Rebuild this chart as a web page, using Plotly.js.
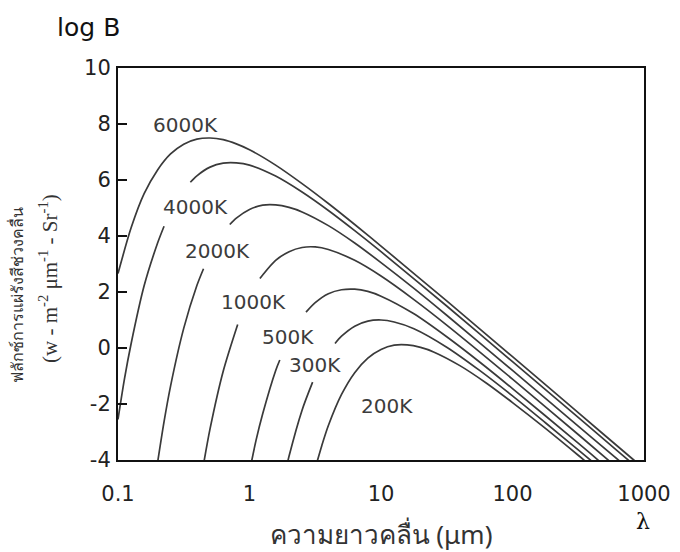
<!DOCTYPE html>
<html>
<head>
<meta charset="utf-8">
<script src="https://cdn.plot.ly/plotly-3.0.1.min.js"></script>
<style>
html,body{margin:0;padding:0;background:#ffffff;}
#chart{width:680px;height:552px;}
</style>
</head>
<body>
<div id="chart"></div>
<script>
// ---- data (wavelength in micrometres, value = log B) ----
const curveNames = ['6000K', '4000K', '2000K', '1000K', '500K', '300K', '200K'];

const lam6000 = [0.1, 0.126, 0.158, 0.2, 0.251, 0.316, 0.398, 0.501, 0.631, 0.794, 1, 1.58, 2.51, 3.98, 6.31, 10, 31.6, 100, 316, 794, 1000];
const logB6000 = [2.66, 4.30, 5.51, 6.36, 6.93, 7.28, 7.46, 7.50, 7.44, 7.29, 7.08, 6.53, 5.87, 5.16, 4.41, 3.64, 1.68, -0.31, -2.31, -3.91, -4.30];

const lam4000 = [0.1, 0.112, 0.126, 0.158, 0.2, 0.224, 0.3, 0.355, 0.398, 0.501, 0.631, 0.794, 1, 1.58, 2.51, 3.98, 6.31, 10, 31.6, 100, 316, 631, 794];
const logB4000 = [-2.55, -1.10, 0.17, 2.22, 3.75, 4.35, null, 5.92, 6.15, 6.46, 6.60, 6.61, 6.53, 6.14, 5.57, 4.91, 4.19, 3.44, 1.50, -0.49, -2.48, -3.68, -4.08];

const lam2000 = [0.2, 0.224, 0.251, 0.316, 0.398, 0.447, 0.55, 0.708, 0.794, 1, 1.26, 1.58, 2, 2.51, 3.98, 6.31, 10, 17.8, 31.6, 100, 316, 631, 708];
const logB2000 = [-4.09, -2.63, -1.36, 0.70, 2.23, 2.83, null, 4.41, 4.64, 4.95, 5.10, 5.11, 5.02, 4.86, 4.37, 3.75, 3.05, 2.13, 1.17, -0.80, -2.79, -3.98, -4.18];

const lam1000 = [0.447, 0.501, 0.631, 0.813, 1.0, 1.2, 1.26, 1.58, 2, 2.51, 3.16, 3.98, 6.31, 10, 17.8, 31.6, 100, 316, 562];
const logB1000 = [-4.16, -2.89, -0.83, 0.84, null, 2.48, 2.61, 3.13, 3.44, 3.59, 3.61, 3.52, 3.13, 2.57, 1.73, 0.82, -1.11, -3.09, -4.09];

const lam500 = [1, 1.12, 1.26, 1.58, 1.7, 2.2, 2.69, 3.16, 3.98, 5.01, 6.31, 7.94, 10, 17.8, 31.6, 56.2, 100, 316, 501];
const logB500 = [-4.42, -3.31, -2.35, -0.81, -0.43, null, 1.28, 1.62, 1.94, 2.08, 2.10, 2.02, 1.85, 1.22, 0.40, -0.50, -1.45, -3.40, -4.20];

const lam300 = [1.78, 2, 2.51, 3.02, 3.6, 4.47, 5.01, 6.31, 7.94, 10, 12.6, 17.8, 31.6, 56.2, 100, 178, 316, 398];
const logB300 = [-4.89, -3.86, -2.22, -1.22, null, 0.16, 0.42, 0.78, 0.96, 1.00, 0.93, 0.69, 0.03, -0.80, -1.71, -2.67, -3.64, -4.03];

const lam200 = [3.16, 3.55, 3.98, 5.01, 6.31, 7.94, 10, 12.6, 15.8, 20, 25.1, 39.8, 63.1, 100, 178, 316, 355];
const logB200 = [-4.30, -3.48, -2.77, -1.66, -0.88, -0.36, -0.05, 0.10, 0.11, 0.02, -0.14, -0.63, -1.25, -1.95, -2.87, -3.83, -4.03];

const xTickVals = [0.1, 1, 10, 100, 1000];
const xTickText = ['0.1', '1', '10', '100', '1000'];
const yTickVals = [-4, -2, 0, 2, 4, 6, 8, 10];
const yTickText = ['-4', '-2', '0', '2', '4', '6', '8', '10'];

const titleText = 'log B';
const xTitleText = 'ความยาวคลื่น (μm)';
const yTitleLine1 = 'ฟลักซ์การแผ่รังสีช่วงคลื่น';
const yTitleLine2 = '(w - m<sup>-2</sup> μm<sup>-1</sup> - Sr<sup>-1</sup>)';
const lambdaSymbol = 'λ';

// ---- build ----
const xs = [lam6000, lam4000, lam2000, lam1000, lam500, lam300, lam200];
const ys = [logB6000, logB4000, logB2000, logB1000, logB500, logB300, logB200];

const curveColor = '#3a3a3a';
const traces = xs.map((x, i) => ({
  type: 'scatter', mode: 'lines', x: x, y: ys[i], name: curveNames[i],
  connectgaps: false,
  line: {color: curveColor, width: 1.7, shape: 'spline', smoothing: 0.8},
  hoverinfo: 'skip'
}));

// label anchor points (log10 of wavelength, log B)
const labelPos = [[-0.483, 7.96], [-0.407, 5.04], [-0.24, 3.46], [0.034, 1.64], [0.293, 0.39], [0.498, -0.61], [1.046, -2.07]];
const labelFont = {family: 'DejaVu Sans, sans-serif', size: 20, color: '#3c3c3c'};
const annotations = curveNames.map((n, i) => ({
  x: labelPos[i][0], y: labelPos[i][1], xref: 'x', yref: 'y', text: n,
  showarrow: false, xanchor: 'center', yanchor: 'middle', font: labelFont
}));

annotations.push({
  xref: 'paper', yref: 'paper', x: 0.998, y: -0.158, text: lambdaSymbol, showarrow: false,
  xanchor: 'center', yanchor: 'middle', font: {family: 'DejaVu Serif, serif', size: 22, color: '#111'}
});
annotations.push({
  xref: 'paper', yref: 'paper', x: -0.192, y: 0.421, text: yTitleLine1, showarrow: false, textangle: -90,
  xanchor: 'center', yanchor: 'middle', font: {family: 'Noto Sans, DejaVu Sans, sans-serif', size: 16, color: '#333'}
});
annotations.push({
  xref: 'paper', yref: 'paper', x: -0.131, y: 0.462, text: yTitleLine2, showarrow: false, textangle: -90,
  xanchor: 'center', yanchor: 'middle', font: {family: 'Liberation Serif, DejaVu Serif, serif', size: 21, color: '#333'}
});

const layout = {
  width: 680, height: 552,
  margin: {l: 118, r: 36, t: 68, b: 92},
  paper_bgcolor: '#ffffff', plot_bgcolor: '#ffffff',
  showlegend: false,
  title: {text: titleText, x: 0.084, xanchor: 'left', y: 0.951, yanchor: 'middle',
          font: {family: 'DejaVu Sans, sans-serif', size: 25, color: '#111'}},
  xaxis: {
    type: 'log', range: [-1, 3],
    tickvals: xTickVals, ticktext: xTickText,
    ticks: '', showgrid: false, zeroline: false,
    showline: true, linecolor: '#111', linewidth: 2, mirror: true,
    ticklabelstandoff: 14,
    tickfont: {family: 'DejaVu Sans, sans-serif', size: 21, color: '#222'},
    title: {text: xTitleText, standoff: 22, font: {family: 'Noto Sans, DejaVu Sans, sans-serif', size: 26, color: '#333'}}
  },
  yaxis: {
    range: [-4, 10],
    tickvals: yTickVals, ticktext: yTickText,
    ticks: 'inside', ticklen: 9, tickwidth: 1.5, tickcolor: '#111',
    showgrid: false, zeroline: false,
    showline: true, linecolor: '#111', linewidth: 2, mirror: true,
    ticklabelstandoff: 1,
    tickfont: {family: 'DejaVu Sans, sans-serif', size: 21, color: '#222'}
  },
  annotations: annotations
};

Plotly.newPlot('chart', traces, layout, {staticPlot: true, displayModeBar: false});
</script>
</body>
</html>
